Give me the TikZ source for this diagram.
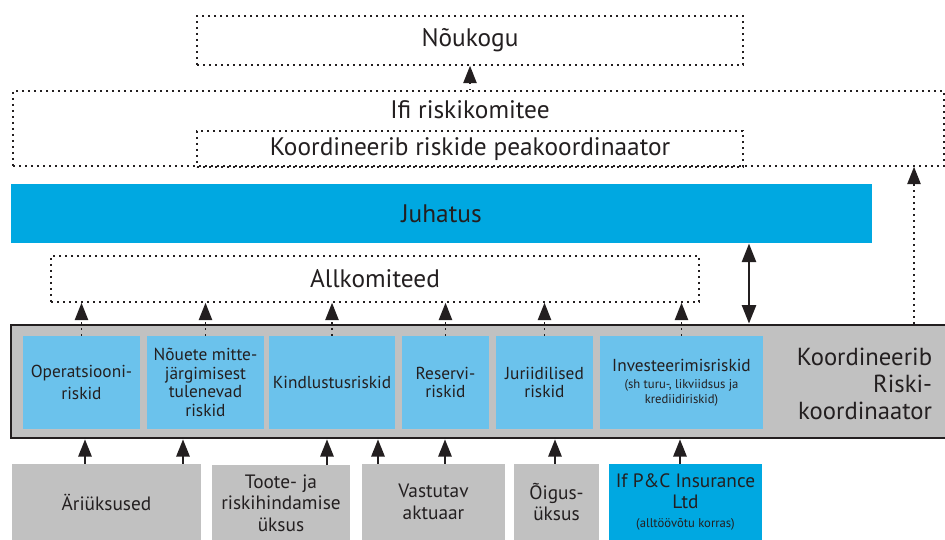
\documentclass[tikz,border=0pt]{standalone}
\usepackage{fontspec}
\setmainfont{PT Sans}
\usetikzlibrary{arrows.meta}

\definecolor{ifblue}{RGB}{0,168,225}
\definecolor{riskblue}{RGB}{107,194,236}
\definecolor{unitgrey}{RGB}{193,193,193}
\definecolor{inkgrey}{RGB}{35,31,32}

\newcommand{\smalltxt}[1]{{\fontsize{9.5}{11}\selectfont #1}}

\tikzset{every picture/.style={line width=0.75pt}}
\tikzset{
  dotline/.style={draw=inkgrey, line width=1.2pt, dash pattern=on 1.2pt off 3.3pt},
  dotbox/.style={dotline, inner sep=0pt, text=inkgrey, font={\fontsize{19}{21}\selectfont}},
  bluebox/.style={fill=ifblue, inner sep=0pt, text=inkgrey, align=center},
  riskbox/.style={fill=riskblue, inner sep=0pt, text=inkgrey, align=center, font={\fontsize{13}{14}\selectfont}},
  unitbox/.style={fill=unitgrey, inner sep=0pt, text=inkgrey, align=center, font={\fontsize{14.5}{16}\selectfont}},
  upar/.style={draw=inkgrey, line width=1.5pt, -{Triangle[width=10pt,length=13pt]}},
  dotar/.style={dotline, -{Triangle[width=10pt,length=13pt]}},
  dblar/.style={draw=inkgrey, line width=2pt, {Triangle[width=10.5pt,length=14pt]}-{Triangle[width=10.5pt,length=14pt]}}
}

\begin{document}
\begin{tikzpicture}[x=0.75pt,y=0.75pt,yscale=-1,xscale=1]
\useasboundingbox (0,0) rectangle (945,539);

%Shape: Rectangle [Noukogu]
\draw (470,40.5) node [dotbox, minimum width=409.5pt, minimum height=36.75pt] (nouk) {Nõukogu};
%Shape: Rectangle [Ifi riskikomitee]
\draw (478.5,128.5) node [dotbox, minimum width=698.25pt, minimum height=56.25pt] (ifi) {};
% Text Node
\draw (470,110) node [text=inkgrey, font={\fontsize{19}{21}\selectfont}] (ifitxt) {Ifi riskikomitee};
%Shape: Rectangle [peakoordinaator]
\draw (470,149) node [dotbox, minimum width=409.5pt, minimum height=27pt] (peak) {Koordineerib riskide peakoordinaator};

%Shape: Rectangle [Juhatus]
\draw (441.5,213.5) node [bluebox, minimum width=645.75pt, minimum height=44.25pt, font={\fontsize{19}{21}\selectfont}] (juh) {Juhatus};
%Shape: Rectangle [Allkomiteed]
\draw (375,279) node [dotbox, minimum width=486pt, minimum height=34.5pt] (allk) {Allkomiteed};

%Shape: Rectangle [grey bar]
\draw (481.5,381.5) node [fill=unitgrey, draw=inkgrey, line width=2pt, inner sep=0pt, minimum width=705.75pt, minimum height=84.75pt] (riski) {};
% Text Node
\draw (937,384) node [anchor=east, align=right, text=inkgrey, font={\fontsize{18.5}{20}\selectfont}] (riskitxt) {Koordineerib\\Riski-\\koordinaator};

%Shape: Rectangle [risk boxes]
\draw (81.5,382.5) node [riskbox, minimum width=87.75pt, minimum height=69.75pt] (r1) {Operatsiooni-\\[3pt]riskid};
\draw (205.5,382.5) node [riskbox, minimum width=87.75pt, minimum height=69.75pt] (r2) {Nõuete mitte-\\järgimisest\\tulenevad\\riskid};
\draw (332,382.5) node [riskbox, minimum width=94.5pt, minimum height=69.75pt] (r3) {Kindlustusriskid};
\draw (445.5,382.5) node [riskbox, minimum width=65.25pt, minimum height=69.75pt] (r4) {Reservi-\\riskid};
\draw (544.5,382.5) node [riskbox, minimum width=72.75pt, minimum height=69.75pt] (r5) {Juriidilised\\riskid};
\draw (681.5,382.5) node [riskbox, minimum width=122.25pt, minimum height=69.75pt] (r6) {Investeerimisriskid\\[-1pt]\smalltxt{(sh turu-, likviidsus ja}\\[-3pt]\smalltxt{krediidiriskid)}};

%Shape: Rectangle [units]
\draw (106.5,502) node [unitbox, minimum width=141.75pt, minimum height=57pt] (ariuk) {Äriüksused};
\draw (281,503) node [unitbox, minimum width=103.5pt, minimum height=57pt] (toote) {Toote- ja\\riskihindamise\\üksus};
\draw (433.5,502) node [unitbox, minimum width=107.25pt, minimum height=57pt] (vastu) {Vastutav\\aktuaar};
\draw (556.5,502) node [unitbox, minimum width=63.75pt, minimum height=57pt] (oigus) {Õigus-\\üksus};
\draw (685.5,502) node [unitbox, fill=ifblue, minimum width=114.75pt, minimum height=57pt] (ifpc) {If P\&C Insurance\\Ltd\\[-2pt]\smalltxt{(alltöövõtu korras)}};

%Straight Lines [up to Noukogu]
\draw [dotar] (nouk.south |- ifi.north) -- (nouk.south);
%Straight Lines [up to Ifi riskikomitee]
\coordinate (rk) at (914,0);
\draw [dotar] (rk |- riski.north) -- (rk |- ifi.south);
%Straight Lines [Juhatus <-> bar]
\coordinate (jb) at (749,0);
\draw [dblar] (jb |- juh.south) -- (jb |- riski.north);

%Straight Lines [risk boxes up to Allkomiteed]
\foreach \r in {r1,r2,r3,r4,r5,r6}
  \draw [dotar] (\r.north) -- (\r.north |- allk.south);

%Straight Lines [units up to bar]
\foreach \x/\u in {85/ariuk,183/ariuk,327/toote,378/vastu,445/vastu,555/oigus,680/ifpc}
  \draw [upar] (\u.north -| \x,0) -- (riski.south -| \x,0);

\end{tikzpicture}
\end{document}
